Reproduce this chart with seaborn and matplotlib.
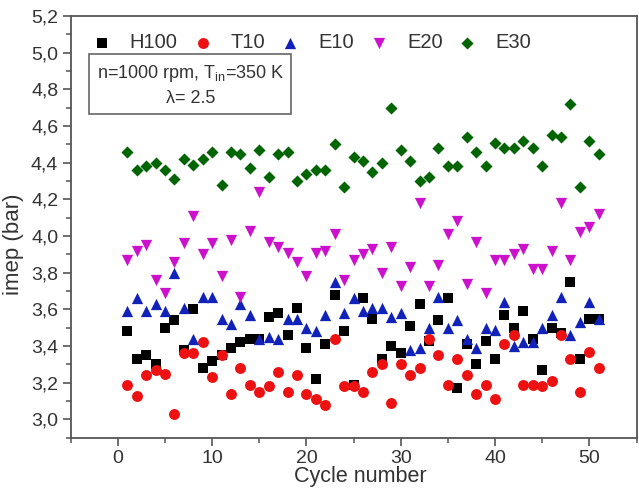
import numpy as np
import pandas as pd
import matplotlib
matplotlib.use("Agg")
import matplotlib.pyplot as plt
from matplotlib.ticker import MultipleLocator, FuncFormatter
import seaborn as sns

# ---- data ----
cycles = np.arange(1, 52)
h100 = [3.48, 3.33, 3.35, 3.30, 3.50, 3.54, 3.38, 3.60, 3.28, 3.32,
        3.35, 3.39, 3.42, 3.44, 3.44, 3.56, 3.58, 3.46, 3.61, 3.39,
        3.22, 3.41, 3.68, 3.48, 3.19, 3.66, 3.55, 3.33, 3.40, 3.36,
        3.51, 3.63, 3.43, 3.54, 3.66, 3.17, 3.41, 3.30, 3.43, 3.33,
        3.57, 3.50, 3.59, 3.44, 3.27, 3.50, 3.47, 3.75, 3.33, 3.55, 3.55]
t10 = [3.19, 3.13, 3.24, 3.27, 3.25, 3.03, 3.36, 3.36, 3.42, 3.23,
       3.35, 3.14, 3.28, 3.19, 3.15, 3.18, 3.26, 3.15, 3.24, 3.14,
       3.11, 3.08, 3.44, 3.18, 3.18, 3.15, 3.26, 3.30, 3.09, 3.30,
       3.24, 3.28, 3.44, 3.35, 3.19, 3.33, 3.24, 3.14, 3.19, 3.11,
       3.41, 3.46, 3.19, 3.19, 3.18, 3.21, 3.46, 3.33, 3.15, 3.37, 3.28]
e10 = [3.59, 3.66, 3.59, 3.63, 3.59, 3.80, 3.61, 3.44, 3.67, 3.67,
       3.55, 3.52, 3.63, 3.57, 3.44, 3.45, 3.44, 3.55, 3.55, 3.50,
       3.48, 3.57, 3.75, 3.58, 3.66, 3.59, 3.61, 3.61, 3.56, 3.58,
       3.38, 3.39, 3.50, 3.67, 3.50, 3.54, 3.44, 3.39, 3.50, 3.49,
       3.64, 3.40, 3.42, 3.42, 3.50, 3.57, 3.67, 3.46, 3.53, 3.64, 3.55]
e20 = [3.87, 3.92, 3.95, 3.76, 3.69, 3.86, 3.96, 4.11, 3.90, 3.96,
       3.78, 3.98, 3.67, 4.03, 4.24, 3.97, 3.94, 3.91, 3.86, 3.78,
       3.91, 3.92, 4.01, 3.76, 3.87, 3.90, 3.93, 3.80, 3.94, 3.73,
       3.83, 4.18, 3.73, 3.84, 4.01, 4.08, 3.74, 3.97, 3.69, 3.87,
       3.87, 3.90, 3.93, 3.82, 3.82, 3.92, 4.18, 3.87, 4.02, 4.05, 4.12]
e30 = [4.46, 4.36, 4.38, 4.40, 4.36, 4.31, 4.42, 4.39, 4.42, 4.46,
       4.28, 4.46, 4.45, 4.37, 4.47, 4.32, 4.45, 4.46, 4.30, 4.34,
       4.36, 4.36, 4.50, 4.27, 4.43, 4.41, 4.35, 4.40, 4.70, 4.47,
       4.41, 4.30, 4.32, 4.48, 4.38, 4.38, 4.54, 4.46, 4.38, 4.51,
       4.48, 4.48, 4.52, 4.48, 4.38, 4.55, 4.54, 4.72, 4.27, 4.52, 4.45]

names = ["H100", "T10", "E10", "E20", "E30"]
series = [h100, t10, e10, e20, e30]
colors = ["#000000", "#ee1111", "#1122bb", "#cc11cc", "#006400"]
markers = ["s", "o", "^", "v", "D"]
sizes = [50, 62, 66, 66, 38]

sns.set_style("ticks")
plt.rcParams["font.family"] = ["Liberation Sans", "DejaVu Sans"]
plt.rcParams["mathtext.fontset"] = "custom"
plt.rcParams["mathtext.rm"] = "Liberation Sans"
plt.rcParams["mathtext.it"] = "Liberation Sans"

fig = plt.figure(figsize=(6.39, 4.88), dpi=100)
ax = fig.add_axes([0.1106, 0.1031, 0.8855, 0.8641])

for name, vals, c, m, s in zip(names, series, colors, markers, sizes):
    df = pd.DataFrame({"cycle": cycles, "imep": vals})
    sns.scatterplot(data=df, x="cycle", y="imep", ax=ax, color=c, marker=m,
                    s=s, linewidth=0, label=name, zorder=3)

ax.set_xlim(-5, 55)
ax.set_ylim(2.9, 5.2)
ax.xaxis.set_major_locator(MultipleLocator(10))
ax.xaxis.set_minor_locator(MultipleLocator(5))
ax.yaxis.set_major_locator(MultipleLocator(0.2))
ax.yaxis.set_minor_locator(MultipleLocator(0.1))
ax.yaxis.set_major_formatter(FuncFormatter(lambda v, p: f"{v:.1f}".replace(".", ",")))

txtc = "#333333"
for sp in ax.spines.values():
    sp.set_visible(True)
    sp.set_linewidth(1.3)
    sp.set_color("#555555")
ax.tick_params(which="major", direction="out", length=6, width=1.2,
               color="#555555", labelsize=14, labelcolor=txtc, pad=3)
ax.tick_params(which="minor", direction="out", length=3.5, width=1.1,
               color="#555555")
ax.tick_params(top=False, right=False, which="both")

ax.set_xlabel("Cycle number", fontsize=15.5, color=txtc)
ax.set_ylabel("imep (bar)", fontsize=16, color=txtc)
ax.xaxis.label.set_va("center")
ax.yaxis.label.set_va("center")
ax.xaxis.set_label_coords(0.511, -0.091)
ax.yaxis.set_label_coords(-0.101, 0.459)

leg = ax.legend(ncol=5, loc="center left", bbox_to_anchor=(0.037, 0.9367),
                frameon=False, fontsize=14.5, handlelength=1.0,
                handletextpad=0.9, columnspacing=0.73, borderpad=0,
                borderaxespad=0)
for t in leg.get_texts():
    t.set_color(txtc)

ax.text(0.2116, 0.8364, "n=1000 rpm, T$_{\\mathrm{in}}$=350 K\n\u03bb= 2.5",
        transform=ax.transAxes, ha="center", va="center", fontsize=13,
        color=txtc, multialignment="center", linespacing=1.5,
        bbox=dict(boxstyle="square,pad=0.4", fc="white", ec="#666666", lw=1.2),
        zorder=4)

fig.savefig("out.png", dpi=100)
